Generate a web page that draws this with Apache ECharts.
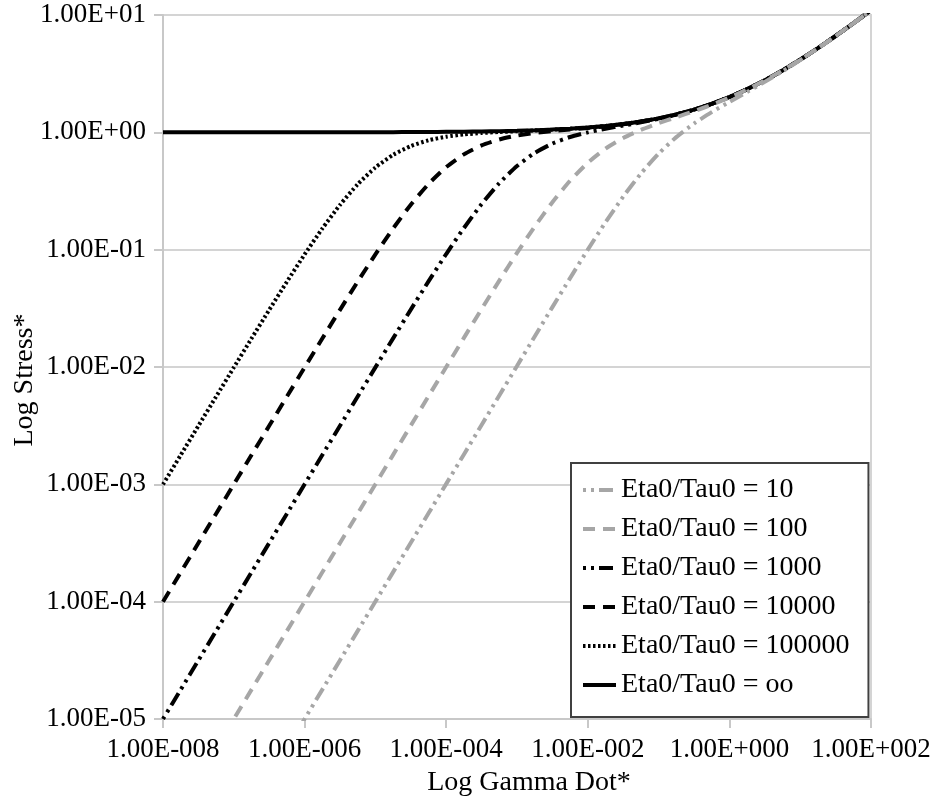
<!DOCTYPE html>
<html>
<head>
<meta charset="utf-8">
<title>Log Stress vs Log Gamma Dot</title>
<script src="https://cdn.jsdelivr.net/npm/echarts@6/dist/echarts.min.js"></script>
<style>
    html, body { margin: 0; padding: 0; background: #fff; }
    #chart { width: 940px; height: 806px; }
</style>
</head>
<body>
<div id="chart"></div>
<script>
// shear rate (quarter decades)
var gammaDot = [
    1e-8, 1.778e-8, 3.162e-8, 5.623e-8,
    1e-7, 1.778e-7, 3.162e-7, 5.623e-7,
    1e-6, 1.778e-6, 3.162e-6, 5.623e-6,
    1e-5, 1.778e-5, 3.162e-5, 5.623e-5,
    1e-4, 1.778e-4, 3.162e-4, 5.623e-4,
    1e-3, 1.778e-3, 3.162e-3, 5.623e-3,
    1e-2, 1.778e-2, 3.162e-2, 5.623e-2,
    0.1, 0.1778, 0.3162, 0.5623,
    1, 1.778, 3.162, 5.623,
    10, 17.78, 31.62, 56.23,
    100
];
// stress
var stress10 = [
    1.000e-7, 1.778e-7, 3.162e-7, 5.623e-7,
    1.000e-6, 1.778e-6, 3.162e-6, 5.623e-6,
    1.001e-5, 1.780e-5, 3.168e-5, 5.636e-5,
    1.003e-4, 1.786e-4, 3.179e-4, 5.662e-4,
    1.009e-3, 1.799e-3, 3.208e-3, 5.725e-3,
    0.01021, 0.01821, 0.03238, 0.05723,
    0.1000, 0.1711, 0.2830, 0.4453,
    0.6581, 0.9100, 1.187, 1.486,
    1.818, 2.209, 2.693, 3.312,
    4.121, 5.188, 6.603, 8.484,
    10.99
];
var stress100 = [
    1.000e-6, 1.778e-6, 3.162e-6, 5.623e-6,
    1.000e-5, 1.779e-5, 3.164e-5, 5.627e-5,
    1.001e-4, 1.780e-4, 3.167e-4, 5.634e-4,
    1.002e-3, 1.783e-3, 3.170e-3, 5.634e-3,
    0.01000, 0.01771, 0.03120, 0.05450,
    0.09378, 0.1574, 0.2538, 0.3869,
    0.5500, 0.7254, 0.8949, 1.050,
    1.197, 1.346, 1.514, 1.719,
    1.980, 2.320, 2.770, 3.365,
    4.158, 5.214, 6.621, 8.497,
    11.00
];
var stress1000 = [
    1.000e-5, 1.778e-5, 3.162e-5, 5.623e-5,
    1.000e-4, 1.779e-4, 3.163e-4, 5.624e-4,
    1.000e-3, 1.778e-3, 3.158e-3, 5.605e-3,
    0.009932, 0.01755, 0.03083, 0.05364,
    0.09182, 0.1530, 0.2445, 0.3685,
    0.5158, 0.6671, 0.8025, 0.9127,
    1.000, 1.073, 1.142, 1.216,
    1.303, 1.414, 1.557, 1.747,
    1.998, 2.332, 2.777, 3.371,
    4.162, 5.217, 6.623, 8.499,
    11.00
];
var stress10000 = [
    1.000e-4, 1.778e-4, 3.162e-4, 5.622e-4,
    9.993e-4, 1.776e-3, 3.154e-3, 5.596e-3,
    0.009911, 0.01750, 0.03071, 0.05337,
    0.09120, 0.1516, 0.2416, 0.3626,
    0.5050, 0.6486, 0.7733, 0.8692,
    0.9378, 0.9867, 1.024, 1.056,
    1.089, 1.127, 1.174, 1.235,
    1.315, 1.421, 1.562, 1.750,
    2.000, 2.333, 2.778, 3.371,
    4.162, 5.217, 6.623, 8.499,
    11.00
];
var stress100000 = [
    9.991e-4, 1.775e-3, 3.153e-3, 5.593e-3,
    0.009904, 0.01748, 0.03067, 0.05328,
    0.09100, 0.1512, 0.2407, 0.3608,
    0.5016, 0.6428, 0.7640, 0.8554,
    0.9182, 0.9594, 0.9866, 1.006,
    1.021, 1.036, 1.053, 1.073,
    1.099, 1.133, 1.177, 1.237,
    1.316, 1.422, 1.562, 1.750,
    2.000, 2.334, 2.778, 3.371,
    4.162, 5.217, 6.623, 8.499,
    11.00
];
var stressInf = [
    1.000, 1.000, 1.000, 1.000,
    1.000, 1.000, 1.001, 1.001,
    1.001, 1.001, 1.002, 1.002,
    1.003, 1.004, 1.006, 1.007,
    1.010, 1.013, 1.018, 1.024,
    1.032, 1.042, 1.056, 1.075,
    1.100, 1.133, 1.178, 1.237,
    1.316, 1.422, 1.562, 1.750,
    2.000, 2.334, 2.778, 3.371,
    4.162, 5.217, 6.623, 8.499,
    11.00
];
var legendNames = ['Eta0/Tau0 = 10', 'Eta0/Tau0 = 100', 'Eta0/Tau0 = 1000',
    'Eta0/Tau0 = 10000', 'Eta0/Tau0 = 100000', 'Eta0/Tau0 = oo'];

var FONT = '"Liberation Serif", "Times New Roman", serif';
var GRAY = '#a6a6a6';

/**
 * @desc pair x with y values
 */
function pairs(ys) {
    var out = [];
    for (var i = 0; i < gammaDot.length; i++) {
        out.push([gammaDot[i], ys[i]]);
    }
    return out;
}

/**
 * @desc 1.00E+01 style label
 */
function sciLabel(v, digits) {
    var e = Math.round(Math.log10(v));
    var s = String(Math.abs(e));
    while (s.length < digits) s = '0' + s;
    return '{t|1.00E' + (e < 0 ? '-' : '+') + s + '}';
}

function lineSeries(name, ys, color, dash, width) {
    return {
        type: 'line',
        name: name,
        data: pairs(ys),
        symbol: 'circle',
        showSymbol: false,
        smooth: 0.2,
        clip: true,
        lineStyle: { color: color, width: width, type: dash, cap: 'butt' },
        itemStyle: { color: color },
        emphasis: { disabled: true }
    };
}

// serif text used in labels
var labelRich = { t: { fontFamily: FONT, fontSize: 27, color: '#000' } };
var legendRich = { t: { fontFamily: FONT, fontSize: 28, lineHeight: 28, color: '#000' } };

var myChart = echarts.init(document.getElementById('chart'), null, { renderer: 'canvas' });

var option = {
    animation: false,
    backgroundColor: '#fff',
    textStyle: { fontFamily: FONT },
    grid: {
        left: 163, right: 69, top: 15, bottom: 87,
        show: true,
        borderColor: '#d4d4d4',
        borderWidth: 2,
        containLabel: false,
        outerBoundsMode: 'none'
    },
    legend: {
        orient: 'vertical',
        left: 571,
        top: 463,
        data: legendNames,
        itemWidth: 33,
        itemHeight: 14,
        itemGap: 11,
        padding: [13, 19, 18, 10],
        borderColor: '#404040',
        borderWidth: 2,
        backgroundColor: '#fff',
        selectedMode: false,
        itemStyle: { opacity: 0 },
        lineStyle: { width: 4 },
        formatter: function (name) { return '{t|' + name + '}'; },
        textStyle: { fontFamily: FONT, fontSize: 28, lineHeight: 28, color: '#000', rich: legendRich }
    },
    xAxis: {
        type: 'log',
        logBase: 10,
        min: 1e-8,
        max: 100,
        interval: 2,
        name: 'Log Gamma Dot*',
        nameLocation: 'middle',
        nameGap: 50,
        nameMoveOverlap: false,
        nameTextStyle: { fontFamily: FONT, fontSize: 28, color: '#000', padding: [0, 0, 0, 24] },
        axisLine: { show: true, lineStyle: { color: '#c8c8c8', width: 2 } },
        axisTick: { show: true, length: 9, lineStyle: { color: '#c8c8c8', width: 2 } },
        axisLabel: {
            fontFamily: FONT, fontSize: 27, color: '#000', margin: 17,
            rich: labelRich,
            formatter: function (v) { return sciLabel(v, 3); }
        },
        splitLine: { show: false },
        minorTick: { show: false }
    },
    yAxis: {
        type: 'log',
        logBase: 10,
        min: 1e-5,
        max: 10,
        interval: 1,
        name: 'Log Stress*',
        nameLocation: 'middle',
        nameGap: 124,
        nameMoveOverlap: false,
        nameTextStyle: { fontFamily: FONT, fontSize: 28, color: '#000', padding: [0, 26, 0, 0] },
        axisLine: { show: true, lineStyle: { color: '#c8c8c8', width: 2 } },
        axisTick: { show: true, length: 9, lineStyle: { color: '#c8c8c8', width: 2 } },
        axisLabel: {
            fontFamily: FONT, fontSize: 27, color: '#000', margin: 17,
            rich: labelRich,
            formatter: function (v) { return sciLabel(v, 2); }
        },
        splitLine: { show: true, lineStyle: { color: '#d4d4d4', width: 2 } },
        minorTick: { show: false }
    },
    // oo drawn first so the others sit on top of it
    series: [
        lineSeries(legendNames[5], stressInf, '#000', 'solid', 4),
        lineSeries(legendNames[4], stress100000, '#000', [2.5, 2.5], 4),
        lineSeries(legendNames[3], stress10000, '#000', [12, 8], 4),
        lineSeries(legendNames[2], stress1000, '#000', [3, 5, 3, 5, 14, 5], 4),
        lineSeries(legendNames[1], stress100, GRAY, [12, 8], 4),
        lineSeries(legendNames[0], stress10, GRAY, [3, 5, 3, 5, 14, 5], 4)
    ]
};

myChart.setOption(option);
</script>
</body>
</html>
